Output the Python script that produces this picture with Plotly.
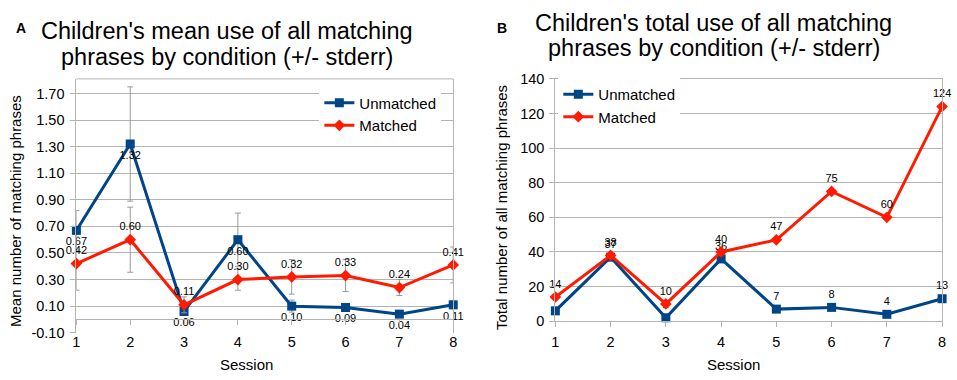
import plotly.graph_objects as go

# ---------------- data ----------------
sessions = [1, 2, 3, 4, 5, 6, 7, 8]

mean_unmatched = [0.67, 1.32, 0.06, 0.60, 0.10, 0.09, 0.04, 0.11]
mean_matched = [0.42, 0.60, 0.11, 0.30, 0.32, 0.33, 0.24, 0.41]
err_unmatched = [0.15, 0.43, 0.03, 0.20, 0.045, 0.03, 0.02, 0.03]
err_matched = [0.20, 0.245, 0.06, 0.08, 0.13, 0.12, 0.06, 0.135]

total_unmatched = [6, 37, 2, 36, 7, 8, 4, 13]
total_matched = [14, 38, 10, 40, 47, 75, 60, 124]

ytick_vals_a = [-0.1, 0.1, 0.3, 0.5, 0.7, 0.9, 1.1, 1.3, 1.5, 1.7]
ytick_text_a = ["-0.10", "0.10", "0.30", "0.50", "0.70", "0.90", "1.10", "1.30", "1.50", "1.70"]
ytick_vals_b = [0, 20, 40, 60, 80, 100, 120, 140]

series_names = ["Unmatched", "Matched"]
title_a_lines = ["Children's mean use of all matching", "phrases by condition (+/- stderr)"]
title_b_lines = ["Children's total use of all matching", "phrases by condition (+/- stderr)"]
ytitle_a = "Mean number of matching phrases"
ytitle_b = "Total number of all matching phrases"
xtitle = "Session"

# ---------------- style ----------------
W, H = 957, 380
NAVY = "#004586"
RED = "#ff1a00"
GRID = "#b3b3b3"
ERR = "#9a9a9a"
FONT = "Liberation Sans, Arial, sans-serif"


def px_x(p):
    return p / W


def px_y(p):
    return 1 - p / H


ya_range = [-0.1, 1.81]
ya_dom = [px_y(339), px_y(74)]
# x axis of panel A crosses at y = 0
xa_pos = ya_dom[0] + (0 - ya_range[0]) / (ya_range[1] - ya_range[0]) * (ya_dom[1] - ya_dom[0])

fig = go.Figure()

fig.add_trace(go.Scatter(
    x=sessions, y=mean_unmatched, name=series_names[0],
    mode="lines+markers+text", texttemplate="%{y:.2f}", textposition="bottom center",
    textfont=dict(size=11, color="black", family=FONT),
    line=dict(color=NAVY, width=3),
    marker=dict(symbol="square", size=9, color=NAVY),
    error_y=dict(type="data", array=err_unmatched, color=ERR, thickness=1, width=3),
    cliponaxis=False, xaxis="x", yaxis="y", legend="legend",
))
fig.add_trace(go.Scatter(
    x=sessions, y=mean_matched, name=series_names[1],
    mode="lines+markers+text", texttemplate="%{y:.2f}", textposition="top center",
    textfont=dict(size=11, color="black", family=FONT),
    line=dict(color=RED, width=3),
    marker=dict(symbol="diamond", size=9, color=RED),
    error_y=dict(type="data", array=err_matched, color=ERR, thickness=1, width=3),
    cliponaxis=False, xaxis="x", yaxis="y", legend="legend",
))
fig.add_trace(go.Scatter(
    x=sessions, y=total_unmatched, name=series_names[0],
    mode="lines+markers+text", texttemplate="%{y}", textposition="top center",
    textfont=dict(size=11, color="black", family=FONT),
    line=dict(color=NAVY, width=3),
    marker=dict(symbol="square", size=9, color=NAVY),
    cliponaxis=False, xaxis="x2", yaxis="y2", legend="legend2",
))
fig.add_trace(go.Scatter(
    x=sessions, y=total_matched, name=series_names[1],
    mode="lines+markers+text", texttemplate="%{y}", textposition="top center",
    textfont=dict(size=11, color="black", family=FONT),
    line=dict(color=RED, width=3),
    marker=dict(symbol="diamond", size=9, color=RED),
    cliponaxis=False, xaxis="x2", yaxis="y2", legend="legend2",
))

axis_common = dict(
    linecolor=GRID, linewidth=1, ticks="outside", ticklen=5, tickcolor=GRID,
    tickfont=dict(size=14.5, color="black", family=FONT), zeroline=False,
)

fig.update_layout(
    width=W, height=H,
    margin=dict(l=0, r=0, t=0, b=0),
    paper_bgcolor="white", plot_bgcolor="white",
    font=dict(family=FONT, color="black"),
    xaxis=dict(domain=[px_x(73), px_x(453)], range=[1, 8], anchor="free", position=xa_pos,
               tickvals=sessions, showline=True, showgrid=False, ticklabelstandoff=4,
               **axis_common),
    yaxis=dict(domain=ya_dom, range=ya_range, anchor="x",
               tickvals=ytick_vals_a, ticktext=ytick_text_a, ticklabelstandoff=3,
               showline=True, mirror=True, showgrid=True, gridcolor=GRID, gridwidth=1,
               **axis_common),
    xaxis2=dict(domain=[px_x(556), px_x(946)], range=[1, 8], anchor="y2",
                tickvals=sessions, showline=True, mirror=True, showgrid=False,
                ticklabelstandoff=2, **axis_common),
    yaxis2=dict(domain=[px_y(327), px_y(74)], range=[0, 140], anchor="x2",
                tickvals=ytick_vals_b, showline=True, mirror=True, ticklabelstandoff=2,
                showgrid=True, gridcolor=GRID, gridwidth=1, **axis_common),
    legend=dict(x=px_x(318), y=px_y(82), xanchor="left", yanchor="top",
                bgcolor="white", borderwidth=0, itemwidth=30, tracegroupgap=0,
                font=dict(size=15, family=FONT, color="black")),
    legend2=dict(x=px_x(559), y=px_y(73), xanchor="left", yanchor="top",
                 bgcolor="white", borderwidth=0, itemwidth=30, tracegroupgap=0,
                 font=dict(size=15, family=FONT, color="black")),
    shapes=[dict(type="line", xref="x domain", yref="y domain", x0=0, x1=1, y0=1, y1=1,
                 line=dict(color=GRID, width=1))],
)

title_font = dict(size=23.5, family=FONT, color="black")
annotations = [
    dict(text=title_a_lines[0], x=px_x(225), y=px_y(24.5), font=title_font),
    dict(text=title_a_lines[1], x=px_x(225), y=px_y(51.5), font=title_font),
    dict(text=title_b_lines[0], x=px_x(715), y=px_y(16), font=title_font),
    dict(text=title_b_lines[1], x=px_x(716), y=px_y(42), font=title_font),
    dict(text="<b>A</b>", x=px_x(17), y=px_y(21), font=dict(size=14, family=FONT, color="black")),
    dict(text="<b>B</b>", x=px_x(502), y=px_y(21), font=dict(size=14, family=FONT, color="black")),
    dict(text=ytitle_a, x=px_x(11), y=px_y(212), textangle=-90,
         font=dict(size=15, family=FONT, color="black")),
    dict(text=ytitle_b, x=px_x(501), y=px_y(208), textangle=-90,
         font=dict(size=15, family=FONT, color="black")),
    dict(text=xtitle, x=px_x(245), y=px_y(372), font=dict(size=15, family=FONT, color="black")),
    dict(text=xtitle, x=px_x(736), y=px_y(372), font=dict(size=15, family=FONT, color="black")),
]
for a in annotations:
    a.update(xref="paper", yref="paper", showarrow=False, xanchor="center", yanchor="middle")
fig.update_layout(annotations=annotations)

fig.write_html("out.html", config={"displayModeBar": False},
               post_script="document.body.style.margin='0';")
